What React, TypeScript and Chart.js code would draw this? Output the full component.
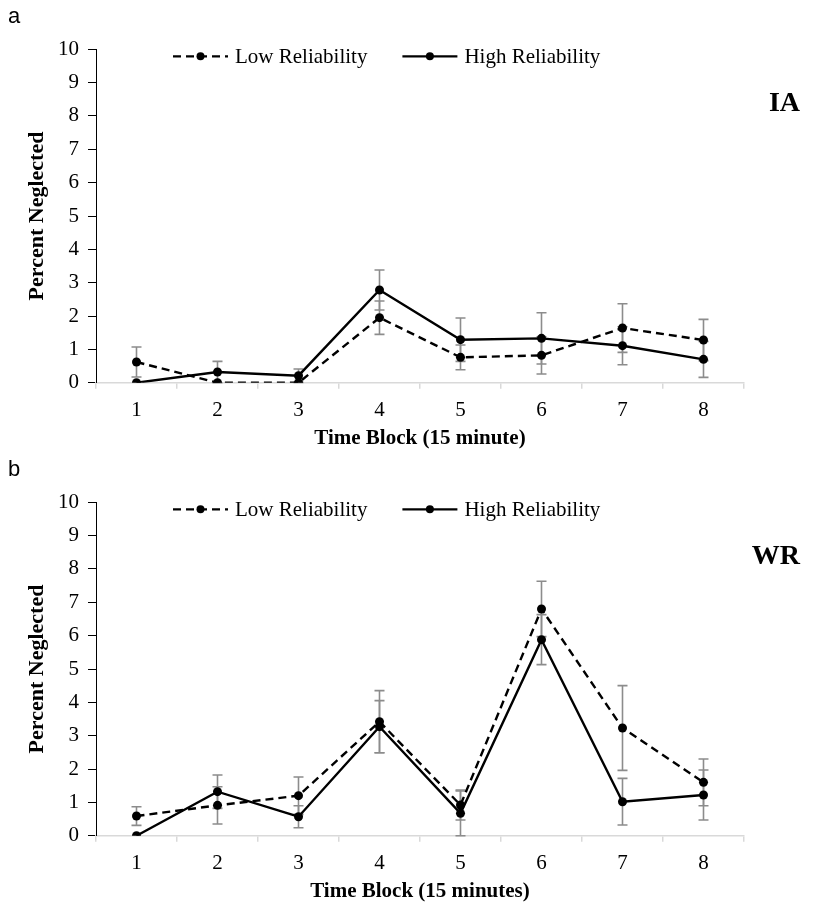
import React, { useEffect, useRef } from "react";
import { Chart, registerables } from "chart.js";

Chart.register(...registerables);

// ---------- data ----------
const timeBlocks = ["1", "2", "3", "4", "5", "6", "7", "8"];
const seriesNames = ["Low Reliability", "High Reliability"];
const yTicks = [0, 1, 2, 3, 4, 5, 6, 7, 8, 9, 10];

const iaLow = [0.62, 0, 0, 1.95, 0.76, 0.82, 1.64, 1.28];
const iaLowErr = [0.45, 0, 0, 0.5, 0.37, 0.56, 0.73, 0.62];
const iaHigh = [0, 0.32, 0.21, 2.78, 1.29, 1.33, 1.11, 0.7];
const iaHighErr = [0, 0.32, 0.2, 0.6, 0.65, 0.77, 0.57, 0.54];

const wrLow = [0.59, 0.91, 1.2, 3.42, 0.92, 6.8, 3.23, 1.6];
const wrLowErr = [0.28, 0.56, 0.56, 0.93, 0.45, 0.83, 1.27, 0.7];
const wrHigh = [0, 1.32, 0.57, 3.27, 0.67, 5.88, 1.02, 1.22];
const wrHighErr = [0, 0.5, 0.33, 0.78, 0.67, 0.75, 0.7, 0.75];

// ---------- styles ----------
const SERIF = "'Liberation Serif', 'Times New Roman', serif";
const SANS = "'Liberation Sans', Arial, sans-serif";
const W = 813;
const H = 452;

const errorBarsPlugin = {
  id: "errorBars",
  beforeDatasetsDraw(chart: any) {
    const { ctx } = chart;
    const ys = chart.scales.y;
    ctx.save();
    ctx.strokeStyle = "#8c8c8c";
    ctx.lineWidth = 1.6;
    chart.data.datasets.forEach((ds: any, i: number) => {
      const meta = chart.getDatasetMeta(i);
      const errs: number[] = ds.errors || [];
      meta.data.forEach((pt: any, j: number) => {
        const e = errs[j];
        if (!e) return;
        const v = ds.data[j];
        const yTop = ys.getPixelForValue(v + e);
        const yBot = ys.getPixelForValue(Math.max(0, v - e));
        const x = pt.x;
        const cap = 5;
        ctx.beginPath();
        ctx.moveTo(x, yTop);
        ctx.lineTo(x, yBot);
        ctx.moveTo(x - cap, yTop);
        ctx.lineTo(x + cap, yTop);
        ctx.moveTo(x - cap, yBot);
        ctx.lineTo(x + cap, yBot);
        ctx.stroke();
      });
    });
    ctx.restore();
  },
};

const overlayPlugin = {
  id: "overlay",
  afterDraw(chart: any, _args: any, opts: any) {
    const { ctx, chartArea } = chart;
    ctx.save();
    // panel letter
    ctx.fillStyle = "#000";
    ctx.font = `22px ${SANS}`;
    ctx.textAlign = "left";
    ctx.textBaseline = "middle";
    ctx.fillText(opts.letter, 8, 17);
    // panel name
    ctx.font = `bold 28px ${SERIF}`;
    ctx.textAlign = "right";
    ctx.fillText(opts.name, chartArea.right + 56, chartArea.top + 54);
    // legend
    ctx.font = `21px ${SERIF}`;
    ctx.textAlign = "left";
    const ly = chartArea.top + 7;
    let x = chartArea.left + 77;
    chart.data.datasets.forEach((ds: any) => {
      const sample = 55;
      ctx.strokeStyle = "#000";
      ctx.lineWidth = 2.2;
      ctx.setLineDash(ds.borderDash || []);
      ctx.beginPath();
      ctx.moveTo(x, ly);
      ctx.lineTo(x + sample, ly);
      ctx.stroke();
      ctx.setLineDash([]);
      ctx.beginPath();
      ctx.arc(x + sample / 2, ly, 4, 0, Math.PI * 2);
      ctx.fillStyle = "#000";
      ctx.fill();
      ctx.fillText(ds.label, x + sample + 7, ly + 1);
      x += sample + 7 + ctx.measureText(ds.label).width + 35;
    });
    ctx.restore();
  },
};

type PanelProps = {
  letter: string;
  name: string;
  xTitle: string;
  low: number[];
  lowErr: number[];
  high: number[];
  highErr: number[];
  top: number;
};

function Panel(p: PanelProps) {
  const ref = useRef<HTMLCanvasElement | null>(null);
  useEffect(() => {
    if (!ref.current) return;
    const chart = new Chart(ref.current, {
      type: "line",
      data: {
        labels: timeBlocks,
        datasets: [
          {
            label: seriesNames[0],
            data: p.low,
            errors: p.lowErr,
            borderColor: "#000",
            backgroundColor: "#000",
            borderWidth: 2.4,
            borderDash: [8, 5],
            pointRadius: 4.5,
            pointBackgroundColor: "#000",
            pointBorderWidth: 0,
            tension: 0,
          } as any,
          {
            label: seriesNames[1],
            data: p.high,
            errors: p.highErr,
            borderColor: "#000",
            backgroundColor: "#000",
            borderWidth: 2.4,
            pointRadius: 4.5,
            pointBackgroundColor: "#000",
            pointBorderWidth: 0,
            tension: 0,
          } as any,
        ],
      },
      options: {
        responsive: false,
        animation: false,
        layout: { padding: { top: 49.3, right: 69, bottom: 0, left: 0 } },
        plugins: {
          legend: { display: false },
          tooltip: { enabled: false },
          overlay: { letter: p.letter, name: p.name },
        } as any,
        scales: {
          x: {
            type: "category",
            offset: true,
            grid: {
              display: true,
              drawOnChartArea: false,
              drawTicks: true,
              tickLength: 6,
              color: "#d9d9d9",
              lineWidth: 1.5,
              offset: true,
            },
            border: { display: true, color: "#d9d9d9", width: 1.5 },
            ticks: {
              color: "#000",
              font: { family: SERIF, size: 21 },
              padding: 9,
              maxRotation: 0,
            },
            title: {
              display: true,
              text: p.xTitle,
              color: "#000",
              font: { family: SERIF, size: 21, weight: "bold" },
              padding: { top: 0, bottom: 1 },
            },
            afterFit: (s: any) => {
              s.height = H - 382.7;
            },
          },
          y: {
            type: "linear",
            min: 0,
            max: 10,
            afterBuildTicks: (s: any) => {
              s.ticks = yTicks.map((v) => ({ value: v }));
            },
            grid: {
              display: true,
              drawOnChartArea: false,
              drawTicks: true,
              tickLength: 8,
              color: "#000",
              lineWidth: 1,
            },
            border: { display: true, color: "#000", width: 1 },
            ticks: {
              color: "#000",
              font: { family: SERIF, size: 21 },
              padding: 9,
            },
            title: {
              display: true,
              text: "Percent Neglected",
              color: "#000",
              font: { family: SERIF, size: 22, weight: "bold" },
              padding: { top: 24, bottom: 0 },
            },
            afterFit: (s: any) => {
              s.width = 96;
            },
          },
        },
      } as any,
      plugins: [errorBarsPlugin, overlayPlugin],
    });
    return () => chart.destroy();
  }, []);
  return (
    <canvas
      ref={ref}
      width={W}
      height={H}
      style={{ position: "absolute", left: 0, top: p.top, width: W, height: H }}
    />
  );
}

export default function App() {
  return (
    <div
      style={{
        position: "absolute",
        left: 0,
        top: 0,
        width: W,
        height: 905,
        background: "#fff",
        overflow: "hidden",
      }}
    >
      <Panel
        letter="a"
        name="IA"
        xTitle="Time Block (15 minute)"
        low={iaLow}
        lowErr={iaLowErr}
        high={iaHigh}
        highErr={iaHighErr}
        top={0}
      />
      <Panel
        letter="b"
        name="WR"
        xTitle="Time Block (15 minutes)"
        low={wrLow}
        lowErr={wrLowErr}
        high={wrHigh}
        highErr={wrHighErr}
        top={453}
      />
    </div>
  );
}
